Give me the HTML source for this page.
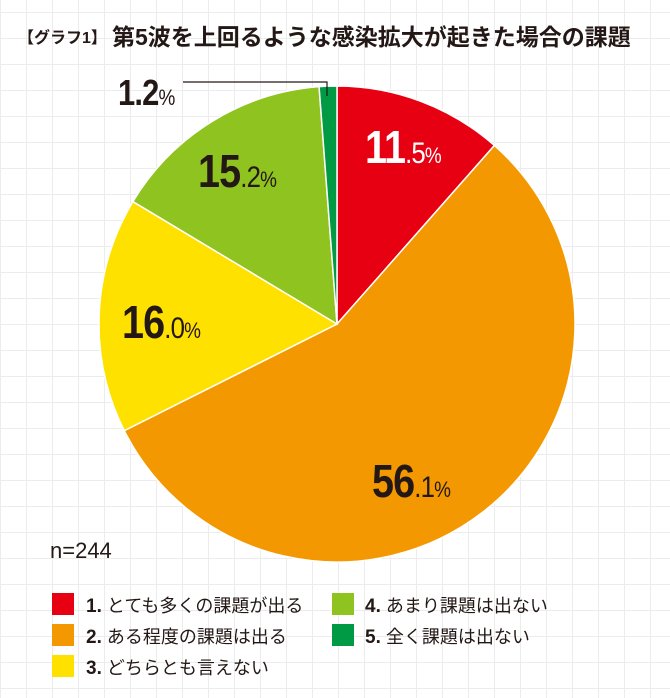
<!DOCTYPE html>
<html><head><meta charset="utf-8"><style>
body{margin:0;width:670px;height:698px;overflow:hidden;background:#fff;
background-image:linear-gradient(#ececec 1px,transparent 1px),linear-gradient(90deg,#ececec 1px,transparent 1px);background-size:26px 26px;background-position:0 12px;
font-family:"Liberation Sans","Noto Sans CJK JP",sans-serif;color:#231815;position:relative}
.t{position:absolute;white-space:nowrap}
.lab{position:absolute;font-weight:bold;font-size:46px;letter-spacing:-1px;transform:scaleX(0.86);transform-origin:left top;line-height:1}
.lab small{font-size:30px;font-weight:normal}
.lab i{font-style:normal;font-size:22px;font-weight:normal}
.sw{position:absolute;width:22px;height:22px}
.lg{position:absolute;font-size:18px;white-space:nowrap}
.lg b{font-size:19px}
</style></head><body>
<div class="t" style="left:18px;top:24px;font-size:16px;font-weight:bold">【グラフ1】</div>
<div class="t" style="left:112px;top:18px;font-size:23px;font-weight:bold">第5波を上回るような感染拡大が起きた場合の課題</div>
<svg width="670" height="698" style="position:absolute;left:0;top:0" id="s">
<polyline points="183,82 327,82 327,96" fill="none" stroke="#231815" stroke-width="1.2"/>
</svg>
<div class="lab" style="left:118px;top:75px;font-size:36px">1.<small style="font-size:36px;font-weight:bold">2</small><i>%</i></div>
<div class="lab" style="left:365px;top:124px;color:#fff">11<small>.5</small><i>%</i></div>
<div class="lab" style="left:198px;top:148px">15<small>.2</small><i>%</i></div>
<div class="lab" style="left:122px;top:299px">16<small>.0</small><i>%</i></div>
<div class="lab" style="left:372px;top:458px">56<small>.1</small><i>%</i></div>
<div class="t" style="left:50px;top:538px;font-size:22px">n=244</div>
<div class="sw" style="left:52px;top:593px;background:#e60012"></div>
<div class="lg" style="left:86px;top:592px"><b>1.</b> とても多くの課題が出る</div>
<div class="sw" style="left:52px;top:624px;background:#f39800"></div>
<div class="lg" style="left:86px;top:623px"><b>2.</b> ある程度の課題は出る</div>
<div class="sw" style="left:52px;top:655px;background:#ffe100"></div>
<div class="lg" style="left:86px;top:654px"><b>3.</b> どちらとも言えない</div>
<div class="sw" style="left:332px;top:593px;background:#8fc31f"></div>
<div class="lg" style="left:365px;top:592px"><b>4.</b> あまり課題は出ない</div>
<div class="sw" style="left:332px;top:624px;background:#009944"></div>
<div class="lg" style="left:365px;top:623px"><b>5.</b> 全く課題は出ない</div>
<script>
var s=document.getElementById('s'),cx=337,cy=324,r=238,a=0;
var d=[[11.5,'#e60012'],[56.1,'#f39800'],[16.0,'#ffe100'],[15.2,'#8fc31f'],[1.2,'#009944']];
var h='';
d.forEach(function(e){var a2=a+e[0]/100*2*Math.PI;
var x1=cx+r*Math.sin(a),y1=cy-r*Math.cos(a),x2=cx+r*Math.sin(a2),y2=cy-r*Math.cos(a2);
h+='<path d="M'+cx+','+cy+'L'+x1+','+y1+'A'+r+','+r+' 0 '+(a2-a>Math.PI?1:0)+' 1 '+x2+','+y2+'Z" fill="'+e[1]+'" stroke="#fff" stroke-width="1.5"/>';a=a2;});
s.insertAdjacentHTML('afterbegin',h);
</script>
</body></html>
